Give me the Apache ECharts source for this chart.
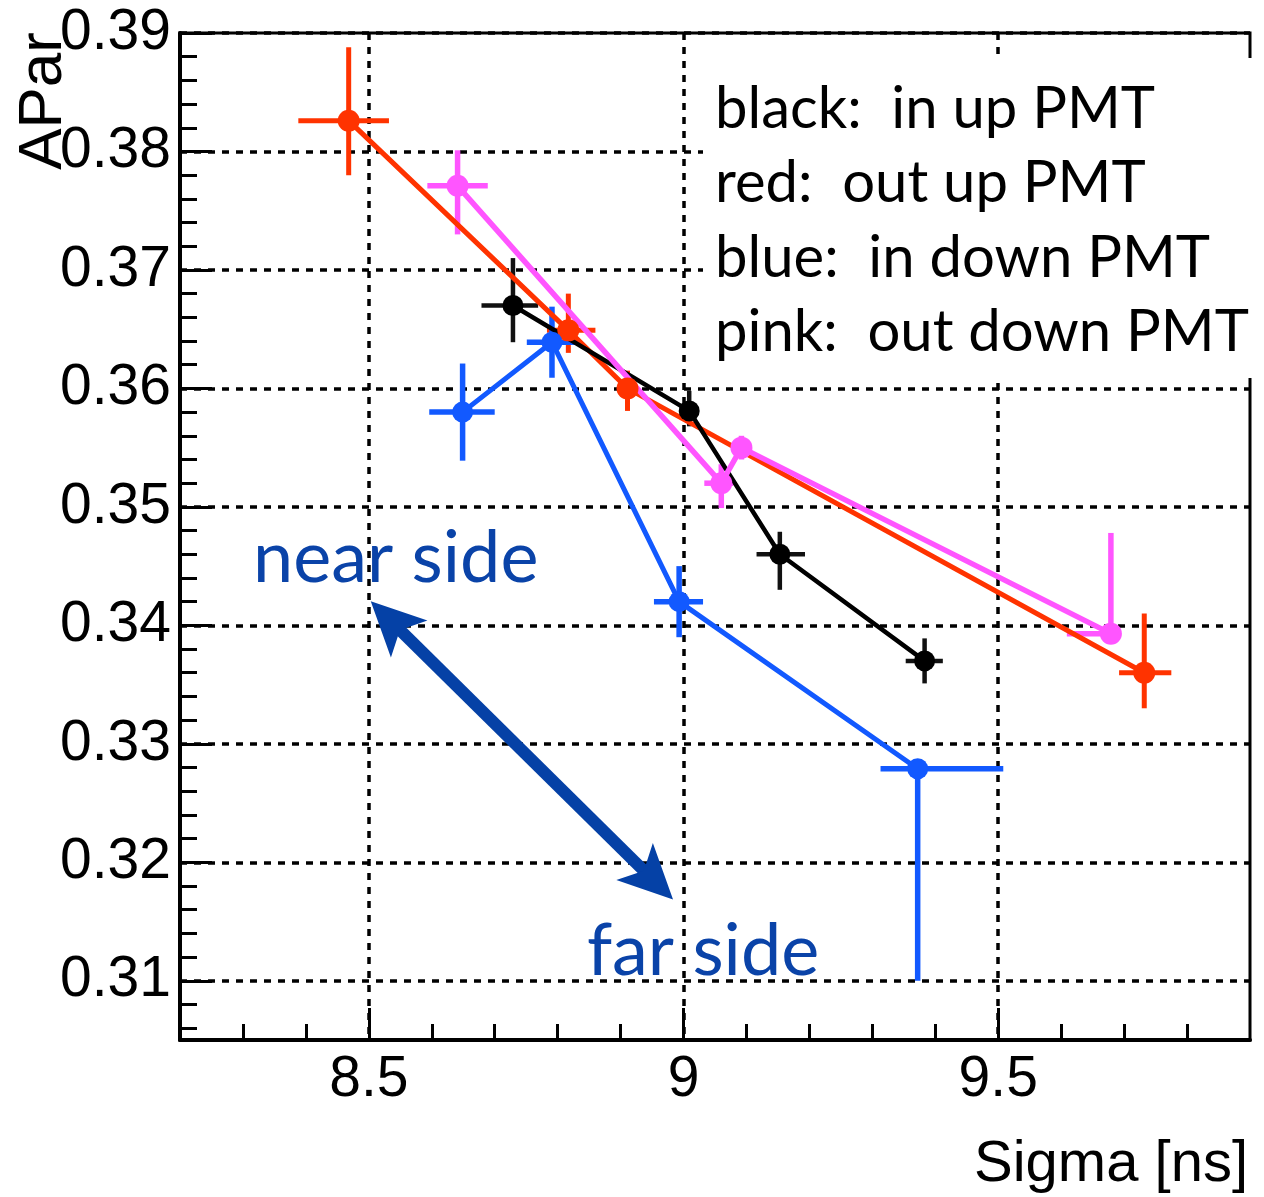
<!DOCTYPE html>
<html><head><meta charset="utf-8">
<script src="https://cdn.jsdelivr.net/npm/echarts@6/dist/echarts.min.js"></script>
<style>html,body{margin:0;padding:0;background:#fff}#c{width:1264px;height:1197px}</style>
</head><body><div id="c"></div>
<script>
// ---- axis ticks ----
const xTicks = [8.5, 9, 9.5];
const xMinorTicks = [8.3, 8.4, 8.6, 8.7, 8.8, 8.9, 9.1, 9.2, 9.3, 9.4, 9.6, 9.7, 9.8];
const yTicks = [0.31, 0.32, 0.33, 0.34, 0.35, 0.36, 0.37, 0.38, 0.39];
const yMinorTicks = [0.306, 0.308,
  0.312, 0.314, 0.316, 0.318, 0.322, 0.324, 0.326, 0.328,
  0.332, 0.334, 0.336, 0.338, 0.342, 0.344, 0.346, 0.348,
  0.352, 0.354, 0.356, 0.358, 0.362, 0.364, 0.366, 0.368,
  0.372, 0.374, 0.376, 0.378, 0.382, 0.384, 0.386, 0.388];

// ---- black: in up PMT ----
const blackX   = [8.729, 9.009, 9.153, 9.383];
const blackY   = [0.3670, 0.3581, 0.3460, 0.3370];
const blackXLo = [0.050, 0.012, 0.037, 0.030];
const blackXHi = [0.040, 0.012, 0.040, 0.029];
const blackYLo = [0.0031, 0.0013, 0.0030, 0.0019];
const blackYHi = [0.0040, 0.0017, 0.0019, 0.0019];

// ---- red: out up PMT ----
const redX   = [8.468, 8.817, 8.911, 9.732];
const redY   = [0.3826, 0.3649, 0.3600, 0.3360];
const redXLo = [0.080, 0.034, 0.015, 0.040];
const redXHi = [0.064, 0.043, 0.015, 0.043];
const redYLo = [0.0046, 0.0019, 0.0019, 0.0030];
const redYHi = [0.0062, 0.0031, 0.0015, 0.0050];

// ---- blue: in down PMT ----
const blueX   = [8.649, 8.791, 8.993, 9.372];
const blueY   = [0.3580, 0.3639, 0.3420, 0.3279];
const blueXLo = [0.053, 0.040, 0.040, 0.059];
const blueXHi = [0.051, 0.040, 0.038, 0.136];
const blueYLo = [0.0041, 0.0030, 0.0030, 0.0179];
const blueYHi = [0.0041, 0.0030, 0.0030, 0];

// ---- pink: out down PMT ----
const pinkX   = [8.641, 9.060, 9.092, 9.679];
const pinkY   = [0.3771, 0.3520, 0.3550, 0.3393];
const pinkXLo = [0.048, 0.027, 0.012, 0.070];
const pinkXHi = [0.048, 0.019, 0.012, 0];
const pinkYLo = [0.0041, 0.0021, 0.0010, 0];
const pinkYHi = [0.0030, 0.0016, 0.0010, 0.0085];

// ---- annotation texts ----
const legendLines = ['black:  in up PMT', 'red:  out up PMT', 'blue:  in down PMT', 'pink:  out down PMT'];
const nearLabel = 'near side';
const farLabel = 'far side';
const arrowEnds = [[8.5336, 0.34044], [8.9528, 0.31846]];
const xTitle = 'Sigma [ns]';
const yTitle = 'APar';

function pts(xs, ys) { return xs.map((x, i) => [x, ys[i]]); }
function errRows(xs, ys, xl, xh, yl, yh) { return xs.map((x, i) => [x, ys[i], xl[i], xh[i], yl[i], yh[i]]); }

function errSeries(name, rows, color, width) {
  return {
    type: 'custom', name: name + ' err', data: rows, encode: {x: 0, y: 1},
    silent: true, z: 3,
    renderItem: function (params, api) {
      const x = api.value(0), y = api.value(1);
      const xl = api.value(2), xh = api.value(3), yl = api.value(4), yh = api.value(5);
      const pL = api.coord([x - xl, y]), pR = api.coord([x + xh, y]);
      const pB = api.coord([x, y - yl]), pT = api.coord([x, y + yh]);
      const style = {stroke: color, lineWidth: width};
      return {type: 'group', children: [
        {type: 'line', shape: {x1: pL[0], y1: pL[1], x2: pR[0], y2: pR[1]}, style: style},
        {type: 'line', shape: {x1: pT[0], y1: pT[1], x2: pB[0], y2: pB[1]}, style: style}
      ]};
    }
  };
}
function lineSeries(name, data, color, width, size) {
  return {
    type: 'line', name: name, data: data, symbol: 'circle', symbolSize: size,
    showAllSymbol: true, z: 4,
    itemStyle: {color: color}, lineStyle: {color: color, width: width}
  };
}

const COL = {black: '#000000', red: '#ff3300', blue: '#1259ff', pink: '#ff55ff'};
const gridLine = {show: true, lineStyle: {color: '#000', width: 3.5, type: [7, 7]}};
const ROOTFONT = 'Liberation Sans, Arial, Helvetica, sans-serif';
const ANNOFONT = 'Lato, "Open Sans", sans-serif';
const BLUE_TXT = '#0a43a8';
const ARROW_HEAD = 'path://M26,0 L52,54 L26,41 L0,54 Z';

const chart = echarts.init(document.getElementById('c'), null, {renderer: 'canvas'});

const blueLine = lineSeries('blue', pts(blueX, blueY), COL.blue, 5, 21);
blueLine.markLine = {
  silent: true, animation: false,
  symbol: [ARROW_HEAD, ARROW_HEAD], symbolSize: 54, symbolKeepAspect: true,
  label: {show: false},
  lineStyle: {color: '#0541a6', width: 12, type: 'solid'},
  emphasis: {disabled: true},
  data: [[{coord: arrowEnds[0]}, {coord: arrowEnds[1]}]]
};

const option = {
  animation: false,
  backgroundColor: '#fff',
  grid: {left: 180, right: 14, top: 33, bottom: 157, show: true, borderColor: '#000', borderWidth: 3, backgroundColor: 'transparent'},
  xAxis: [
    {type: 'value', min: 8.2, max: 9.9, position: 'bottom',
     axisLine: {show: true, onZero: false, lineStyle: {color: '#000', width: 4}},
     axisTick: {show: true, inside: true, length: 32, lineStyle: {color: '#000', width: 3}, customValues: xTicks},
     axisLabel: {show: true, customValues: xTicks, fontSize: 57, color: '#000', fontFamily: ROOTFONT, margin: 12,
                 formatter: v => String(v)},
     splitLine: gridLine},
    {type: 'value', min: 8.2, max: 9.9, position: 'bottom',
     axisLine: {show: false},
     axisTick: {show: true, inside: true, length: 16, lineStyle: {color: '#000', width: 3}, customValues: xMinorTicks},
     axisLabel: {show: false}, splitLine: {show: false}}
  ],
  yAxis: [
    {type: 'value', min: 0.305, max: 0.39, position: 'left',
     axisLine: {show: true, onZero: false, lineStyle: {color: '#000', width: 4}},
     axisTick: {show: true, inside: true, length: 32, lineStyle: {color: '#000', width: 3}, customValues: yTicks},
     axisLabel: {show: true, customValues: yTicks, fontSize: 57, color: '#000', fontFamily: ROOTFONT, margin: 9,
                 formatter: v => v.toFixed(2)},
     splitLine: gridLine},
    {type: 'value', min: 0.305, max: 0.39, position: 'left',
     axisLine: {show: false},
     axisTick: {show: true, inside: true, length: 17, lineStyle: {color: '#000', width: 3}, customValues: yMinorTicks},
     axisLabel: {show: false}, splitLine: {show: false}}
  ],
  series: [
    errSeries('red', errRows(redX, redY, redXLo, redXHi, redYLo, redYHi), COL.red, 5),
    lineSeries('red', pts(redX, redY), COL.red, 5, 22),
    errSeries('black', errRows(blackX, blackY, blackXLo, blackXHi, blackYLo, blackYHi), '#111', 4.5),
    lineSeries('black', pts(blackX, blackY), COL.black, 4.5, 21),
    errSeries('pink', errRows(pinkX, pinkY, pinkXLo, pinkXHi, pinkYLo, pinkYHi), COL.pink, 5.5),
    lineSeries('pink', pts(pinkX, pinkY), COL.pink, 5.5, 22),
    errSeries('blue', errRows(blueX, blueY, blueXLo, blueXHi, blueYLo, blueYHi), COL.blue, 5.5),
    blueLine
  ],
  graphic: [
    {type: 'rect', z: 100, shape: {x: 703, y: 58, width: 561, height: 320}, style: {fill: '#fff'}},
    ...legendLines.map((t, i) => ({
      type: 'text', z: 101, x: 715, y: 109 + i * 74.5,
      style: {text: t, fontSize: 58, fontFamily: ANNOFONT, fill: '#000', align: 'left', verticalAlign: 'middle'}
    })),
    {type: 'text', z: 101, x: 253, y: 559,
     style: {text: nearLabel, fontSize: 72, fontFamily: ANNOFONT, fill: BLUE_TXT, align: 'left', verticalAlign: 'middle'}},
    {type: 'text', z: 101, x: 587, y: 952,
     style: {text: farLabel, fontSize: 72, fontFamily: ANNOFONT, fill: BLUE_TXT, align: 'left', verticalAlign: 'middle'}},
    {type: 'text', z: 101, x: 1248, y: 1165,
     style: {text: xTitle, fontSize: 58, fontFamily: ROOTFONT, fill: '#000', align: 'right', verticalAlign: 'middle'}},
    {type: 'text', z: 101, x: 44, y: 32, rotation: Math.PI / 2,
     style: {text: yTitle, fontSize: 62, fontFamily: ROOTFONT, fill: '#000', align: 'right', verticalAlign: 'middle'}}
  ]
};
chart.setOption(option);
</script>
</body></html>
